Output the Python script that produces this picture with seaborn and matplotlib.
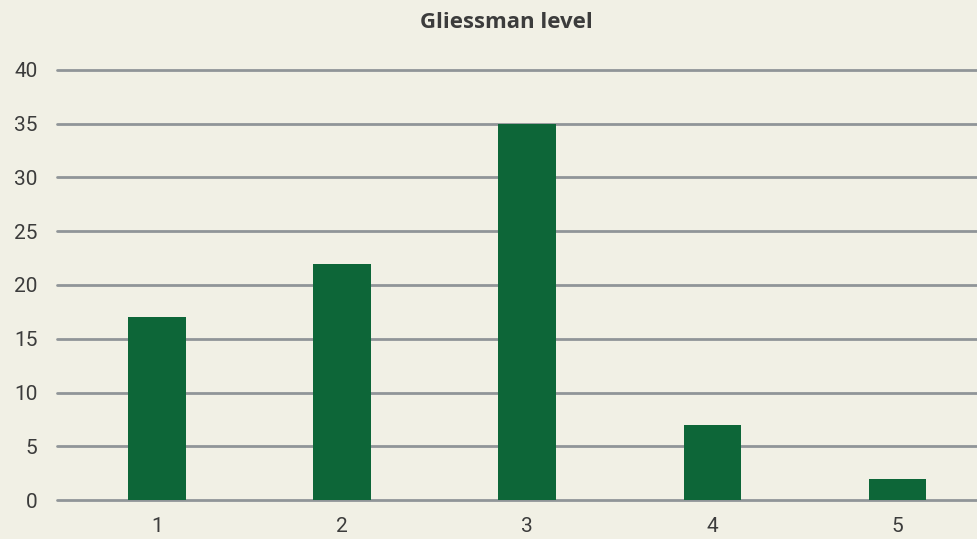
import matplotlib
matplotlib.use('Agg')
import matplotlib.pyplot as plt
import seaborn as sns

# Gliessman level counts
levels = ['1', '2', '3', '4', '5']
counts = [17, 22, 35, 7, 2]
yticks = [0, 5, 10, 15, 20, 25, 30, 35, 40]

bg = '#f1f0e5'
green = '#0d6638'
grid_col = '#909598'
text_col = '#3c3c3c'

sns.set_style('white')
plt.rcParams['font.family'] = ['Roboto', 'DejaVu Sans']

fig = plt.figure(figsize=(9.77, 5.39), dpi=100, facecolor=bg)
ax = fig.add_axes([57/977, 39/539, 920/977, 430/539])
ax.set_facecolor(bg)

sns.barplot(x=levels, y=counts, color=green, width=0.31, saturation=1,
            linewidth=0, edgecolor=green, ax=ax, zorder=3)

ax.set_ylim(0, 40)
ax.set_xlim(-0.54, 4.43)
ax.set_yticks(yticks)
ax.set_yticklabels([str(t) for t in yticks])
ax.yaxis.grid(True, color=grid_col, linewidth=2, zorder=0)
ax.set_axisbelow(True)
for gl in ax.get_ygridlines():
    gl.set_clip_on(False)  # keep the 0 and 40 lines full thickness
for s in ax.spines.values():
    s.set_visible(False)
ax.tick_params(axis='y', length=0, pad=14, labelsize=15, labelcolor=text_col)
ax.tick_params(axis='x', length=0, pad=12, labelsize=15, labelcolor=text_col)
ax.set_xlabel('')
ax.set_ylabel('')

fig.text(506/977, 1 - 23/539, 'Gliessman level', ha='center', va='center',
         fontsize=16, fontweight='bold', color=text_col, family=['Open Sans', 'DejaVu Sans'])

plt.savefig('out.png', dpi=100, facecolor=bg)
